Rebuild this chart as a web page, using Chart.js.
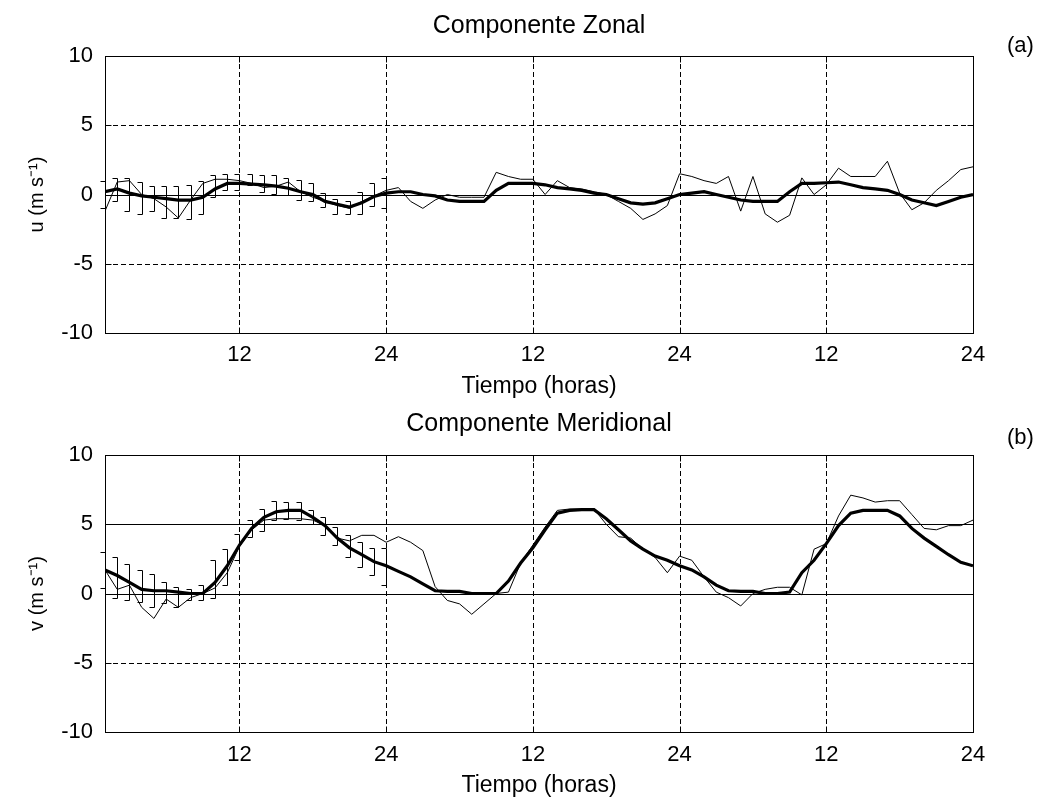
<!DOCTYPE html>
<html>
<head>
<meta charset="utf-8">
<title>Componente Zonal y Meridional</title>
<script src="https://cdn.jsdelivr.net/npm/chart.js@4.4.1/dist/chart.umd.min.js"></script>
<style>
    body { margin: 0; background: #fff; }
    #wrap { position: relative; width: 1041px; height: 803px; }
    #wrap canvas { position: absolute; left: 0; }
    .tag { position: absolute; left: 1007px; font: 22px "Liberation Sans", Arial, sans-serif; line-height: 24px; color: #000; }
</style>
</head>
<body>
<div id="wrap">
    <canvas id="chartU" width="1041" height="400" style="top:0"></canvas>
    <canvas id="chartV" width="1041" height="403" style="top:400px"></canvas>
    <div class="tag" style="top:33px">(a)</div>
    <div class="tag" style="top:425px">(b)</div>
</div>
<script>
// Step 1: data (hourly, three days)
const hours = [
    1, 2, 3, 4, 5, 6, 7, 8, 9, 10, 11, 12, 13, 14, 15, 16, 17, 18, 19, 20, 21, 22, 23, 24,
    25, 26, 27, 28, 29, 30, 31, 32, 33, 34, 35, 36, 37, 38, 39, 40, 41, 42, 43, 44, 45, 46, 47, 48,
    49, 50, 51, 52, 53, 54, 55, 56, 57, 58, 59, 60, 61, 62, 63, 64, 65, 66, 67, 68, 69, 70, 71, 72
];
const xTickValues = [12, 24, 36, 48, 60, 72];
const xTickLabels = ['12', '24', '12', '24', '12', '24'];
const yTickLabels = ['-10', '-5', '0', '5', '10'];

// zonal component u (m/s)
const uObserved = [
    -1.2, 0.9, 1.0, 0.0, -0.3, -0.9, -1.7, -0.4, 0.8, 1.1, 1.1, 1.0, 0.8, 0.5, 0.6, 0.9, 0.2, -0.2, -0.5, -0.8, -1.0, -0.5, -0.1, 0.3,
    0.5, -0.5, -1.0, -0.4, 0.0, -0.2, -0.2, -0.2, 1.6, 1.3, 1.1, 1.1, 0.0, 1.0, 0.5, 0.4, 0.2, 0.0, -0.5, -1.0, -1.8, -1.4, -0.8, 1.5,
    1.3, 1.0, 0.8, 1.3, -1.2, 1.3, -1.4, -2.0, -1.5, 1.2, 0.0, 0.7, 1.9, 1.3, 1.3, 1.3, 2.4, 0.1, -1.1, -0.6, 0.3, 1.0, 1.8, 2.0
];
const uModel = [
    0.2, 0.4, 0.1, -0.1, -0.2, -0.3, -0.4, -0.4, -0.2, 0.4, 0.8, 0.8, 0.75, 0.7, 0.6, 0.45, 0.2, 0.0, -0.5, -0.7, -0.9, -0.6, -0.15, 0.1,
    0.2, 0.2, 0.0, -0.1, -0.4, -0.5, -0.5, -0.5, 0.3, 0.8, 0.8, 0.8, 0.7, 0.5, 0.4, 0.3, 0.1, 0.0, -0.3, -0.6, -0.7, -0.6, -0.3, 0.0,
    0.1, 0.2, 0.0, -0.2, -0.4, -0.5, -0.5, -0.5, 0.2, 0.8, 0.8, 0.85, 0.9, 0.7, 0.5, 0.4, 0.3, 0.0, -0.4, -0.6, -0.8, -0.5, -0.2, 0.0
];
const uErrLow = [
    -1.0, -0.5, -1.2, -1.4, -1.2, -1.7, -1.7, -1.8, -1.4, -0.15, 0.3, 0.3,
    0.7, 0.2, 0.06, -0.04, -0.4, -0.5, -0.9, -1.4, -1.4, -1.4, -0.8, -1.0
];
const uErrHigh = [
    1.0, 1.2, 1.2, 0.9, 0.6, 0.6, 0.6, 0.7, 1.0, 1.4, 1.5, 1.5,
    1.5, 1.4, 1.4, 1.2, 1.05, 0.8, 0.1, -0.3, -0.5, 0.2, 0.8, 1.2
];

// meridional component v (m/s)
const vObserved = [
    1.7, 0.3, 0.6, -1.0, -1.8, -0.4, -1.0, -0.3, 0.0, 0.4, 1.5, 3.4, 4.6, 5.3, 5.4, 5.4, 5.4, 5.3, 4.9, 4.0, 3.8, 4.2, 4.2, 3.7,
    4.1, 3.7, 3.1, 0.5, -0.5, -0.75, -1.5, -0.75, 0.0, 0.1, 2.2, 3.5, 4.8, 6.0, 6.1, 6.1, 6.1, 5.0, 4.1, 4.0, 3.2, 2.6, 1.5, 2.7,
    2.4, 1.2, 0.1, -0.3, -0.9, 0.0, 0.3, 0.45, 0.45, -0.1, 3.2, 3.6, 5.6, 7.1, 6.9, 6.6, 6.7, 6.7, 5.7, 4.7, 4.6, 4.9, 4.9, 5.3
];
const vModel = [
    1.7, 1.3, 0.8, 0.3, 0.2, 0.2, 0.1, 0.0, 0.0, 0.8, 2.0, 3.5, 4.7, 5.5, 5.9, 6.0, 6.0, 5.5, 4.9, 4.0, 3.3, 2.8, 2.3, 2.0,
    1.6, 1.2, 0.7, 0.2, 0.15, 0.15, 0.0, 0.0, 0.0, 0.9, 2.2, 3.3, 4.6, 5.8, 6.0, 6.05, 6.05, 5.4, 4.6, 3.8, 3.2, 2.7, 2.4, 2.0,
    1.7, 1.2, 0.6, 0.2, 0.15, 0.15, 0.0, 0.0, 0.1, 1.5, 2.4, 3.6, 4.9, 5.8, 6.0, 6.0, 6.0, 5.6, 4.7, 4.0, 3.4, 2.8, 2.25, 2.0
];
const vErrLow = [
    0.4, -0.3, -0.5, -0.6, -1.0, -0.7, -1.0, -0.5, -0.5, -0.3, 0.6, 2.4,
    4.1, 4.5, 5.3, 5.4, 5.3, 5.0, 4.2, 3.5, 2.6, 1.9, 1.3, 0.6
];
const vErrHigh = [
    3.0, 2.6, 2.1, 1.7, 1.4, 0.8, 0.5, 0.3, 0.6, 2.4, 3.2, 4.3,
    5.3, 6.1, 6.7, 6.6, 6.6, 6.0, 5.5, 4.8, 4.2, 3.7, 3.3, 3.3
];

const FONT = '"Liberation Sans", Arial, sans-serif';
const DASH = [5, 3];

// Step 2: plugin for the MATLAB-like frame, dashed grid and error bars
function strokeLine(ctx, x1, y1, x2, y2) {
    ctx.beginPath();
    ctx.moveTo(x1, y1);
    ctx.lineTo(x2, y2);
    ctx.stroke();
}

const matlabAxes = {
    id: 'matlabAxes',
    beforeDatasetsDraw(chart, args, opts) {
        const { ctx, chartArea: a, scales: { x, y } } = chart;
        ctx.save();
        ctx.strokeStyle = '#000';
        ctx.lineWidth = 1;

        ctx.setLineDash(DASH);
        xTickValues.forEach(v => {
            if (v <= x.min || v >= x.max) return;
            const px = Math.round(x.getPixelForValue(v)) + 0.5;
            strokeLine(ctx, px, a.top, px, a.bottom);
        });

        y.ticks.forEach(t => {
            if (t.value <= y.min || t.value >= y.max) return;
            const py = Math.round(y.getPixelForValue(t.value)) + 0.5;
            ctx.setLineDash(opts.solidY.includes(t.value) ? [] : DASH);
            strokeLine(ctx, a.left, py, a.right, py);
        });
        ctx.restore();
    },
    afterDatasetsDraw(chart, args, opts) {
        const { ctx, chartArea: a, scales: { x, y } } = chart;
        ctx.save();
        ctx.strokeStyle = '#000';
        ctx.lineWidth = 1;
        ctx.setLineDash([]);

        // error bars for the first day
        opts.errLow.forEach((lo, i) => {
            const px = Math.round(x.getPixelForValue(hours[i])) + 0.5;
            const yLo = Math.round(y.getPixelForValue(lo)) + 0.5;
            const yHi = Math.round(y.getPixelForValue(opts.errHigh[i])) + 0.5;
            strokeLine(ctx, px, yLo, px, yHi);
            strokeLine(ctx, px - 5, yLo, px, yLo);
            strokeLine(ctx, px - 5, yHi, px, yHi);
        });

        // frame
        const l = Math.round(a.left) + 0.5, r = Math.round(a.right) + 0.5;
        const t = Math.round(a.top) + 0.5, b = Math.round(a.bottom) + 0.5;
        ctx.strokeRect(l, t, r - l, b - t);

        // inward tick marks
        xTickValues.forEach(v => {
            const px = Math.round(x.getPixelForValue(v)) + 0.5;
            strokeLine(ctx, px, b, px, b - 6);
            strokeLine(ctx, px, t, px, t + 6);
        });
        y.ticks.forEach(tk => {
            const py = Math.round(y.getPixelForValue(tk.value)) + 0.5;
            strokeLine(ctx, l, py, l + 6, py);
            strokeLine(ctx, r, py, r - 6, py);
        });
        ctx.restore();
    }
};

// Step 3: build one panel
function makePanel(canvasId, cfg) {
    const ctx = document.getElementById(canvasId).getContext('2d');
    return new Chart(ctx, {
        type: 'line',
        data: {
            datasets: [{
                data: hours.map((h, i) => ({ x: h, y: cfg.observed[i] })),
                borderColor: '#000',
                borderWidth: 1,
                pointRadius: 0,
                tension: 0
            }, {
                data: hours.map((h, i) => ({ x: h, y: cfg.model[i] })),
                borderColor: '#000',
                borderWidth: 3.2,
                pointRadius: 0,
                tension: 0
            }]
        },
        plugins: [matlabAxes],
        options: {
            responsive: false,
            animation: false,
            devicePixelRatio: 1,
            layout: { padding: { top: 0, left: 0, right: 68, bottom: 0 } },
            plugins: {
                legend: { display: false },
                tooltip: { enabled: false },
                title: {
                    display: true,
                    fullSize: false,
                    text: cfg.title,
                    color: '#000',
                    font: { family: FONT, size: 25, weight: 'normal' },
                    padding: cfg.titlePadding
                },
                matlabAxes: { solidY: cfg.solidY, errLow: cfg.errLow, errHigh: cfg.errHigh }
            },
            scales: {
                x: {
                    type: 'linear',
                    min: 1,
                    max: 72,
                    grid: { display: false, drawTicks: false },
                    border: { display: false },
                    afterBuildTicks: scale => { scale.ticks = xTickValues.map(v => ({ value: v })); },
                    afterFit: scale => { scale.height = cfg.xAxisHeight; },
                    ticks: {
                        autoSkip: false,
                        maxRotation: 0,
                        padding: cfg.xTickPadding,
                        color: '#000',
                        font: { family: FONT, size: 22 },
                        callback: (value, index) => xTickLabels[index]
                    },
                    title: {
                        display: true,
                        text: 'Tiempo (horas)',
                        color: '#000',
                        font: { family: FONT, size: 23 },
                        padding: { top: 0, bottom: cfg.xTitlePadding }
                    }
                },
                y: {
                    min: -10,
                    max: 10,
                    grid: { display: false, drawTicks: false },
                    border: { display: false },
                    afterFit: scale => { scale.width = 105; },
                    ticks: {
                        stepSize: 5,
                        padding: 12,
                        color: '#000',
                        font: { family: FONT, size: 22 },
                        callback: (value, index) => yTickLabels[index]
                    },
                    title: {
                        display: true,
                        text: cfg.yTitle,
                        color: '#000',
                        font: { family: FONT, size: 20 },
                        padding: { top: 25, bottom: 0 }
                    }
                }
            }
        }
    });
}

makePanel('chartU', {
    title: 'Componente Zonal',
    titlePadding: { top: 11, bottom: 15 },
    yTitle: 'u (m s⁻¹)',
    observed: uObserved,
    model: uModel,
    errLow: uErrLow,
    errHigh: uErrHigh,
    solidY: [0],
    xAxisHeight: 67,
    xTickPadding: 9,
    xTitlePadding: 0
});

makePanel('chartV', {
    title: 'Componente Meridional',
    titlePadding: { top: 9, bottom: 16 },
    yTitle: 'v (m s⁻¹)',
    observed: vObserved,
    model: vModel,
    errLow: vErrLow,
    errHigh: vErrHigh,
    solidY: [0, 5],
    xAxisHeight: 71,
    xTickPadding: 10,
    xTitlePadding: 4
});
</script>
</body>
</html>
